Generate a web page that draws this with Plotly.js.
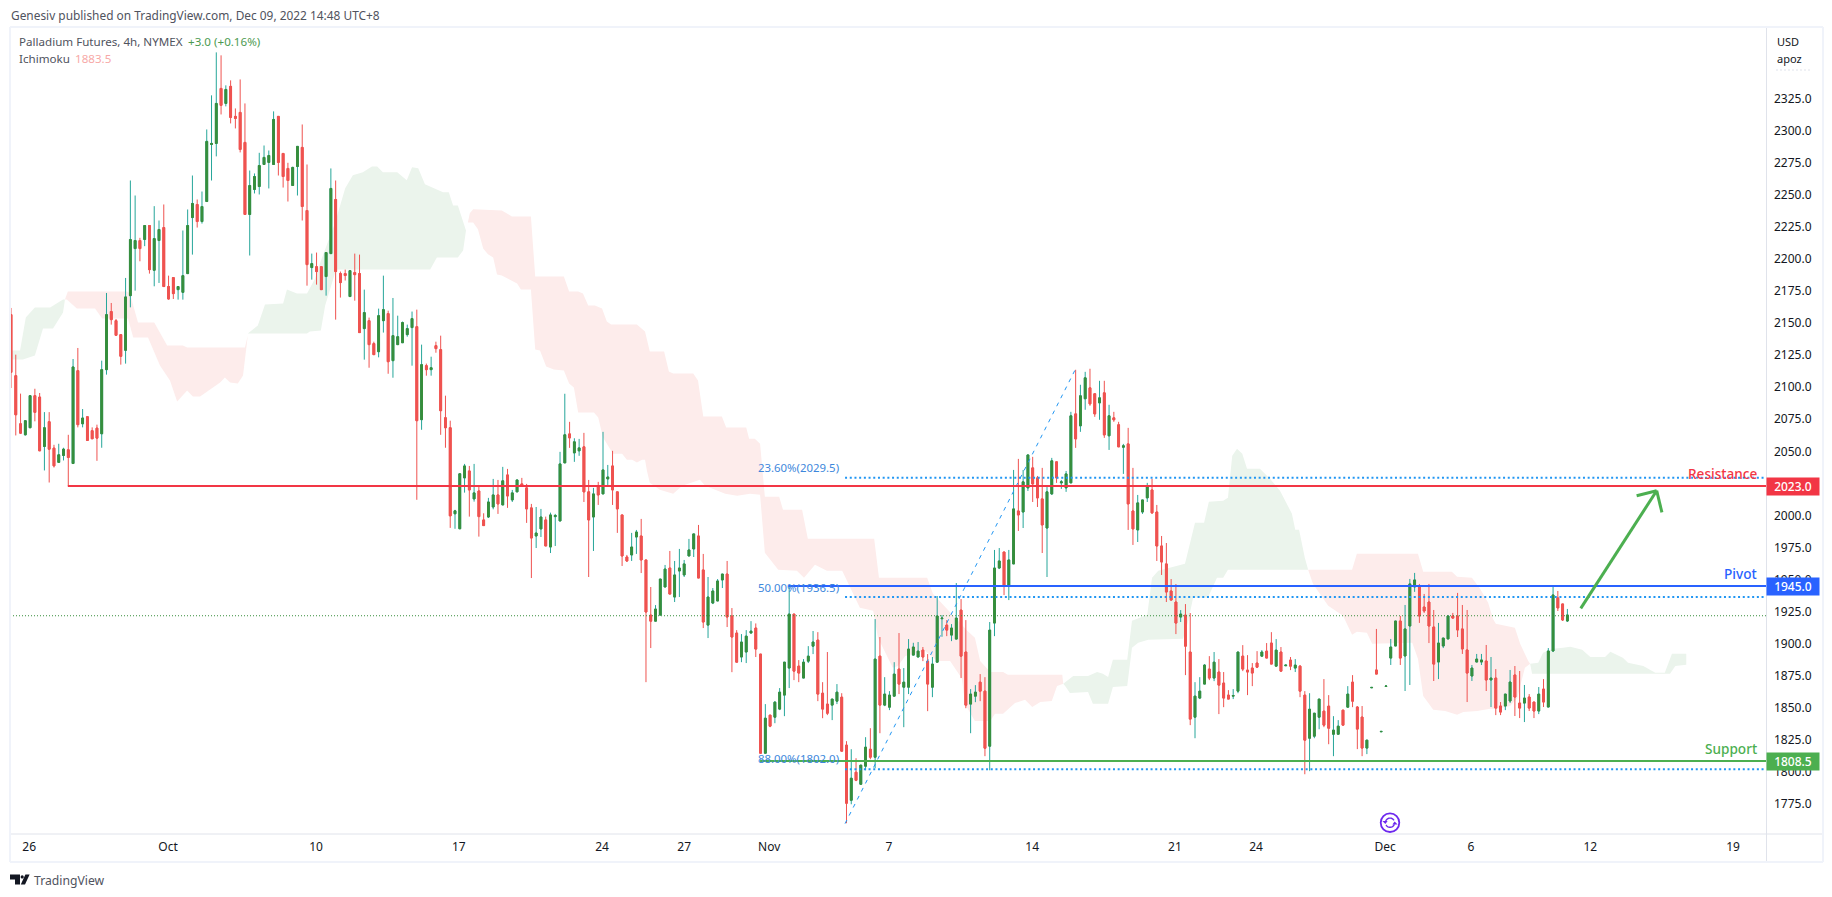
<!DOCTYPE html>
<html><head><meta charset="utf-8">
<script src="https://cdn.plot.ly/plotly-3.0.0.min.js"></script>
<style>html,body{margin:0;padding:0;background:#fff;overflow:hidden}#chart{width:1832px;height:897px}</style>
</head><body><div id="chart"></div>
<script>
const highPrice = [2161.8,2125.4,2095,2074.1,2093.4,2098.8,2095.5,2080.6,2080.6,2055.1,
2055.9,2052.8,2062.9,2122,2130.6,2083,2077,2068.7,2070.8,2120.7,
2173.5,2165.7,2153.2,2141,2185.2,2261.2,2249.5,2216.5,2226.1,2226.1,
2241.2,2230,2242.5,2187,2185.5,2178.5,2222.2,2238.6,2265.1,2246.4,
2252.6,2301,2327.6,2361.1,2358.8,2335.4,2339.3,2317.4,2340,2321.3,
2269,2266.7,2282.8,2288.5,2284.6,2315.1,2311.2,2282.3,2275,2271.9,
2287.8,2304.9,2273.7,2204.2,2205,2194,2205,2270.6,2261.2,2190.2,
2191.7,2190.9,2204.2,2203.4,2176.1,2154.3,2135.5,2161.3,2187,2159.7,
2169.6,2155.8,2151.2,2148.8,2159,2160.5,2133.2,2118.4,2123.8,2135.5,
2140.2,2093.4,2073.9,2004.4,2032.5,2040.2,2038.6,2040.2,2023,2001.7,
2013.7,2028.5,2027.7,2037.9,2036.3,2019.9,2027.7,2029.3,2024.6,2009,
2006.6,2005.1,1999.1,2002.2,2001.2,2049.6,2094.9,2073,2060.2,2059.7,
2064.4,2027.7,2021.5,2026.2,2065.2,2039.4,2050.4,2018.4,2000.4,1969.2,
1986.4,1988.7,1997.3,1965.3,1944.2,1930.1,1950.4,1961.4,1972.3,1964.5,
1973.9,1965.3,1981.7,1985.6,1992.6,1970,1952,1943.4,1950.4,1954.3,
1964.5,1927.8,1910.6,1907.5,1910.6,1917.6,1915.8,1891.9,1852.9,1844.3,
1855.2,1865.4,1885.6,1945,1923.1,1887.2,1888,1898.1,1909.9,1909,
1870,1893.5,1856.8,1868.5,1861.4,1824,1817.7,1810.7,1805.3,1827.1,
1834.1,1919.2,1905.2,1873.9,1863,1885.6,1908.3,1881,1903.6,1900.7,
1901.3,1897.4,1891.9,1889.6,1937.2,1922.3,1918.4,1915.3,1947.3,1934.8,
1918.4,1864.6,1867.7,1876.3,1873.9,1916.9,1973.1,1974.6,1971.5,1973.1,
2035.5,2044.1,2035.5,2047.2,2045.7,2030.8,2037.1,2022.3,2044.9,2041.8,
2027.7,2034.7,2080.8,2113.6,2101.9,2112,2114.4,2094.9,2105,2105,
2086.3,2080.8,2073,2055.8,2068.3,2037.1,2016,2012.1,2025.4,2028.5,
2008.2,1984,1978.5,1950.4,1946.5,1926.2,1930.9,1923.9,1870,1873.9,
1884.1,1890.3,1893.5,1888,1877.9,1863.8,1864.6,1893.5,1898.9,1891.1,
1884.9,1894.2,1895,1900.5,1909,1903.6,1897.4,1883.3,1889.6,1888,
1883.3,1863,1861.4,1845.8,1856.8,1872.4,1859.9,1843.5,1840.4,1848.2,
1866.9,1875.5,1851.4,1851.4,1824.8,1865.9,1911.5,1831.6,1867,1903.7,
1917.7,1921.6,1930.2,1950.5,1955.2,1946.6,1938.8,1946.6,1926.3,1916.2,
1904.4,1922.4,1924,1939.6,1930.2,1926.3,1883.4,1892,1892,1899,
1889.6,1880.2,1854.5,1860.7,1879.5,1882.6,1878.7,1867.8,1860.7,1854.5,
1866.2,1872.4,1896.6,1945,1941.1,1931,1927.1];
const lowPrice = [2099.4,2062.4,2063.5,2062.4,2068.4,2073.4,2050.4,2035.1,2025.7,2037.4,
2041.4,2042.9,2023.1,2040.5,2068.7,2068.7,2058.5,2059.8,2042.6,2052.8,
2109.8,2148.8,2140.5,2117.6,2118.4,2162.3,2175.3,2198.2,2210,2188.6,
2178.7,2181.3,2178.5,2168.3,2168.8,2168.3,2168.3,2188.6,2203.4,2224.5,
2227.6,2244.8,2261.2,2280,2312.7,2319,2305.7,2301.8,2283.1,2234.7,
2202.7,2251.1,2250.3,2273.7,2255,2273.7,2265.1,2255.7,2244.8,2257.3,
2249.5,2230,2179.2,2183.9,2180,2176.1,2171.4,2204.2,2152.7,2169.9,
2183.2,2170.7,2167.5,2142.6,2121.5,2115.2,2125.4,2123.3,2142.6,2110.5,
2107.4,2133.2,2134.7,2139.4,2116.8,2012.2,2066.8,2109,2109,2126.9,
2062.9,2052.8,1990.3,1989.6,1989.6,2017.8,1999.1,2010.8,1983.5,1992.1,
1998,2004.8,2001.2,2008.2,2005.9,2010.5,2018.4,2023,1994.2,1951.2,
1974.6,1983.2,1976.2,1970.7,1976.2,1995.7,2041,2052.7,2041.8,2046.5,
2010.5,1952,1972.3,2008.2,2016.8,2022.3,2008.2,1986.4,1960.6,1963.7,
1964.5,1970,1955.1,1870,1896.6,1917.6,1922.3,1944.2,1938.7,1932.5,
1936.4,1952,1968.4,1967.6,1951.2,1912.2,1904.4,1930.9,1933.3,1943.4,
1913,1877.8,1885.6,1885.6,1884.9,1908.3,1889.6,1814.6,1814.6,1834.9,
1838,1848.2,1843.5,1865.4,1871.6,1870,1873.2,1884.9,1891.9,1855.2,
1841.9,1844.3,1840.4,1852.9,1816.2,1760,1774.8,1792.8,1789.9,1801.3,
1809.9,1802.9,1830.2,1851.3,1848.2,1859.1,1860.7,1834.9,1860.7,1891.1,
1889.6,1886.4,1847.4,1858.3,1885.6,1905.4,1905.9,1902,1903.6,1873.2,
1849.7,1830.2,1854.4,1855.2,1812.3,1801.3,1905.9,1958.2,1937.9,1934,
1962.2,1987.9,1990.2,2019.1,2010.5,2006.6,1970.7,1952,2016,2025.4,
2020.7,2018.4,2025.4,2052.7,2065.2,2082.4,2085.5,2076.9,2074.6,2060.5,
2051.1,2073,2053.5,2032.4,1988.7,1977,1979.3,2001.2,2010.5,2001.2,
1964.5,1953.6,1932.5,1934,1907.5,1916.9,1875.5,1836.5,1826.3,1856.8,
1868.5,1871.6,1870.8,1845.1,1850.5,1856.8,1856.8,1861.4,1878.6,1859.9,
1866.9,1881,1890.3,1888.8,1884.1,1882.5,1878.6,1882.8,1879.4,1877.9,
1858.3,1798.2,1800.6,1826.3,1833.3,1834.9,1821.6,1812.3,1829.4,1836.5,
1850.5,1850.5,1817.8,1812.3,1813.9,1865.6,1876.3,1831.3,1866.7,1883.4,
1898.2,1883.4,1863.1,1867.8,1940.4,1916.2,1924,1900.5,1870.9,1872.4,
1896.6,1903.7,1919.3,1905.2,1892,1854.5,1870.9,1885.7,1883.4,1863.1,
1850.6,1844.3,1844.3,1848.2,1853.7,1843.6,1842,1838.9,1847.5,1842,
1845.1,1850.6,1850.6,1893.5,1925.5,1917.7,1916.9];
const openPrice = [2156.6,2109,2071.5,2062.9,2068.4,2093.4,2092.3,2053.8,2073.1,2052.5,
2041.4,2046.8,2051.2,2040.5,2112.9,2071.5,2077,2066.1,2068.1,2063.7,
2113.7,2159,2151.9,2141,2128.8,2171.4,2208.1,2214.4,2215.2,2226.1,
2191.2,2214.4,2224.5,2178.5,2185.5,2176.1,2174,2188.6,2232.3,2242.5,
2229.2,2244.8,2289.3,2290.1,2333,2321.3,2334.6,2311.2,2314.3,2290.9,
2234.7,2254.2,2256.5,2273.7,2275.3,2273.7,2311.2,2282.3,2270.6,2257.3,
2272.1,2287,2237.8,2193.3,2194,2194,2186.3,2204.2,2246.4,2188.6,
2188.6,2170.7,2189.4,2188.6,2145.7,2151.9,2134,2127.7,2151.9,2157.4,
2120.7,2133.2,2134.7,2141,2146.5,2147.2,2074.7,2116.8,2113.7,2132.4,
2129.3,2076.2,2068.4,2001.3,1989.6,2029.3,2034.7,2012.9,2019.1,1996.5,
1998.8,2006.6,2016,2008.2,2031.6,2012.1,2018.4,2024.6,2021.5,2005.9,
1984,1989.5,1996.5,1975.4,1999.1,1995.7,2041,2063.6,2048.8,2050.4,
2053.5,2018.4,1998.8,2023,2016.8,2028.5,2038.6,2018.4,2000.4,1967.6,
1969.2,1983.2,1984,1965.3,1922.3,1917.6,1922.3,1944.2,1959,1936.4,
1956.7,1953.6,1968.4,1973.9,1984,1957.5,1914.5,1931.7,1933.3,1949.7,
1954.3,1921.6,1908.3,1889.6,1893.5,1908.3,1912.2,1891.9,1814.6,1844.3,
1842.7,1849,1859.9,1881,1923.1,1882.5,1873.2,1886.4,1898.1,1902.8,
1861.4,1852.9,1852.1,1855.2,1858.3,1820.9,1777.9,1799.8,1790.4,1804.5,
1817.7,1811.5,1890.3,1852.1,1850.5,1859.1,1880.2,1866.1,1866.1,1891.1,
1889.6,1895,1886.4,1866.1,1885.6,1919.5,1914.5,1906.7,1903.6,1926.2,
1893.5,1852.9,1859.1,1870,1863,1820.1,1916.1,1959,1971.5,1945,
1962.2,2003.5,2002.7,2021.5,2037.1,2029.3,2012.9,1990.2,2016.8,2041.8,
2025.4,2021.5,2025.4,2079.2,2069.9,2091,2099.5,2094.9,2087.8,2095.6,
2062.1,2076.1,2070.7,2053.2,2055.8,2003.5,1988.7,2002.7,2013.7,2019.9,
2002.7,1976.2,1962.2,1941.1,1932.5,1920.8,1922.3,1893.5,1842.7,1857.6,
1868.5,1880.2,1873.2,1877.9,1869.3,1859.9,1859.1,1863,1890.3,1879.4,
1881,1884.9,1890.3,1894.2,1900.5,1882.5,1893.5,1882.8,1887.2,1881,
1882.5,1859.9,1826.3,1827.9,1842.7,1847.4,1851.3,1829.4,1829.4,1848.2,
1850.5,1870,1850.6,1842.8,1818.6,1865.6,1879.5,1831.3,1866.7,1888.8,
1898.2,1917.7,1890.4,1913.8,1944.3,1944.3,1928.6,1932.5,1913,1885.7,
1898.2,1903.7,1921.6,1921.6,1911.5,1895.1,1874.8,1885.7,1885.7,1886.5,
1871.7,1873.2,1851.4,1851.4,1855.3,1875.6,1853.7,1853.7,1858.4,1854.5,
1847.5,1864.6,1850.6,1894.3,1935.7,1931,1917.7];
const closePrice = [2111.6,2078.5,2064.2,2073.9,2093.4,2080.4,2050.4,2068.4,2051.7,2038.7,
2047.3,2051.7,2045.2,2115.8,2070.8,2076,2058.5,2059.8,2060.3,2113.7,
2156.6,2152.7,2140.5,2124.1,2170.4,2215.2,2214.4,2208.1,2226.1,2191.7,
2215.9,2223,2178.5,2168.8,2173,2178.5,2187,2226.1,2243.3,2229.2,
2240.9,2291.7,2290.1,2321.3,2319.8,2332.2,2310.4,2309.6,2285.4,2234.7,
2257.3,2264.3,2272.9,2279.2,2280.7,2308.8,2275.3,2264.3,2261.2,2271.4,
2287.8,2240.9,2195.6,2196.4,2190.2,2176.1,2205,2255,2190.2,2181.6,
2187.1,2190.9,2187.8,2142.6,2158.2,2133.2,2125.4,2155.8,2160.5,2119.9,
2140.2,2139.4,2150.4,2145.7,2153.5,2073.9,2117.6,2113.7,2115.2,2130.1,
2081.7,2068.4,1999.7,2003.6,2032.5,2038.6,2019.9,2017.6,1999.1,1992.1,
2010.5,2016,2009,2027,2015.2,2017.6,2027.7,2023,2005.1,1982.4,
1986.3,1998.8,1976.2,2000.4,2000,2040.2,2062.9,2060.5,2057.4,2052.7,
2018.4,1996.5,2016.8,2016,2035.5,2030,2019.9,2005.1,1968.4,1964.5,
1975.4,1987.1,1965.3,1924.7,1917.6,1927,1950.4,1958.2,1938.7,1953.6,
1959,1962.2,1973.1,1985.6,1951.2,1916.9,1936.4,1941.1,1948.9,1954.3,
1920.8,1905.2,1885.6,1901.3,1905.9,1909.8,1895.8,1814.6,1841.9,1835.7,
1854.4,1862.2,1885.6,1923.1,1878.6,1877.1,1885.6,1890.3,1901.3,1860.7,
1849,1845.8,1856.8,1862.2,1816.2,1775.6,1795.1,1793.5,1805.3,1819.3,
1811.5,1888,1852.1,1860.7,1859.9,1876.3,1868.5,1870,1895.8,1897.4,
1894.2,1889.6,1868.5,1884.1,1921.6,1920,1910.6,1912.2,1920,1890.3,
1852.1,1860.7,1862.2,1863,1818.5,1910.6,1959,1964.5,1945,1965.3,
2005.1,2000.4,2026.2,2047.2,2024.6,2013.7,1992.6,2018.4,2042.6,2029.3,
2026.2,2032.4,2077.7,2059.7,2093.3,2107.3,2087,2079.2,2091.7,2062.8,
2077.7,2074.6,2053.5,2054.3,2009,1989.5,2009.8,2012.1,2023,2002,
1976.2,1963.7,1940.3,1934,1916.1,1923.1,1898.1,1841.2,1859.1,1863,
1883.3,1873.2,1885.6,1867.7,1857.6,1856.8,1859.6,1893.5,1880.2,1877.9,
1877.1,1881.7,1893.5,1888.8,1884.1,1895,1878.6,1883.3,1882.5,1883.3,
1863,1824.8,1848.9,1845.8,1856.8,1836.5,1834.1,1832.6,1835.7,1836.5,
1860.7,1855.2,1833.4,1818.6,1824.8,1865.9,1876.3,1831.6,1867,1897.4,
1917.7,1888.8,1911.5,1946.6,1949.7,1921.6,1925.5,1913.8,1884.1,1900.5,
1904.4,1921.6,1920,1910.7,1895.9,1877.1,1881,1888,1887.3,1871.7,
1873.2,1849.8,1846.7,1860.7,1870.1,1858.4,1849.8,1857.6,1849.8,1847.5,
1860.7,1854.5,1894.3,1938,1927.9,1918.5,1922.4];

// Ichimoku cloud outlines: bar index and price
const greenCloudA_bar = [0,1.9,3.1,5,8.2,10.9,11.3,10.9,8.8,6.7,5,2.5,0];
const greenCloudA_price = [2128.6,2128.6,2154.4,2162.2,2162.2,2168.4,2168.4,2158.3,2145.8,2145.8,2124.7,2121.6,2121.6];
const pinkCloudA_bar = [11.3,11.9,24.3,24.9,26.6,30,32.7,36,36.9,49,49.6,48.6,47.5,45.9,44.8,43.8,39.6,38.1,36.9,34.8,33.3,31.2,28.7,25.6,24.5,19.1,17.6,13.8,11.7];
const pinkCloudA_price = [2168.4,2174.7,2174.7,2173.1,2150.5,2150.5,2132.5,2132.5,2131,2131,2140.3,2109.1,2102.9,2103.6,2107.5,2103.6,2092.7,2092.7,2097.4,2088.8,2105.2,2116.9,2138.8,2138.8,2153.6,2153.6,2161.4,2161.4,2168.4];
const greenCloudB_bar = [49.6,51.7,53.2,57,57.8,59.9,62,63.7,64.7,67.9,70,71.6,73.7,75.6,76.7,77.9,80.9,82.9,84,85.3,86.7,90.5,91.7,92.6,93.6,94.7,95.3,94.7,93.6,89.2,87.8,68.1,65.8,64.9,62.6,62];
const greenCloudB_price = [2141.9,2148.1,2164.5,2165.3,2176.2,2173.1,2173.1,2184.8,2196.5,2228.5,2255.1,2265.2,2267.6,2272.2,2272.2,2267.6,2267.6,2261.3,2271.5,2270.8,2258.2,2252,2252,2241.8,2241.8,2228.5,2222.3,2206.7,2201.2,2201.2,2191.8,2191.8,2163.7,2144.2,2143.4,2141.9];
const pinkCloudB_bar = [95.7,96.1,96.8,102.8,104.9,108.9,109.8,115.8,116.9,118.8,119.8,120.9,122.3,123.8,124.8,125.7,131.1,132.8,133.8,136.8,137.8,138.7,142.9,143.9,145,148.9,149.8,154,154.6,155.8,156.9,157.9,160.9,161.7,165.7,166.9,180.8,181.8,191.9,193.1,200.3,201.9,203,205.1,207.8,208.8,220.2,220.4,
219.1,218,215.6,213.9,212.4,210.3,207.8,206.1,205.1,201.9,199.8,199.2,196.7,194,191.5,187.3,185.8,184.7,181.6,180.6,177.8,174.1,170.9,168.4,166.1,164.6,160.7,157.9,156.9,154.8,152.1,149.6,145.4,144.3,140.6,138.7,135.9,133.8,133.2,132.8,132.2,131.1,130.1,129,128,126.1,124,123,122.1,118.8,117.9,116.9,115.8,113.7,112.1,110.8,109.8,108.9,106.8,106,102.8,101.8,101,99.9,98.9,97.8,96.8,95.7];
const pinkCloudB_price = [2228.5,2235.6,2238.7,2237.9,2233.2,2233.2,2186.4,2186.4,2174.7,2174.7,2173.1,2163.7,2163.7,2161.4,2151.3,2148.9,2148.9,2143.4,2127.8,2127.8,2112.2,2110.7,2110.7,2105.2,2077.1,2077.1,2068.5,2068.5,2059.9,2059.9,2056,2014.6,2014.6,2004.5,2004.5,1981.9,1981.9,1951.4,1951.4,1938.9,1910,1904.6,1886.6,1878,1878,1875.7,1875.7,1868.7,
1867.1,1855.4,1854.6,1850.7,1856.2,1853.8,1845.3,1845.3,1839.8,1839.8,1853.1,1872.6,1886.6,1886.6,1894.4,1890.5,1882.7,1881.2,1904.6,1925.7,1928,1956.9,1956.9,1961.6,1951.4,1956.9,1957.7,1970.9,2016.2,2017,2015.4,2017,2023.2,2027.9,2023.2,2017,2020.1,2025.6,2034.9,2043.5,2043.5,2041.2,2043.5,2043.5,2048.2,2048.2,2060.7,2076.3,2080.2,2080.2,2099.7,2102.9,2113,2113.8,2116.1,2128.6,2129.4,2176.2,2176.2,2180.9,2187.2,2187.9,2201.2,2203.6,2208.2,2223.1,2228.5,2228.5];
const greenCloudC_bar = [220.4,222.5,225.6,227.5,228.7,229.8,230.8,233.8,234.8,238,239,240.3,245.9,248,249.9,250.9,253.9,254.9,255.8,256.8,257.9,258.9,261.6,263.7,265.8,268.3,269,269.8,271,271.7,254.9,253.9,252.6,250.7,247.6,246.6,245.5,238.2,236.1,234.8,233.8,230.8,229.8,226.6,225.6,221.8,220.8];
const greenCloudC_price = [1868.7,1874.9,1874.9,1878,1876.5,1874.1,1887.4,1887.4,1917.9,1922.5,1951.4,1956.9,1962.3,1994.3,1994.3,2010.7,2011.5,2013.9,2046.6,2052.1,2048.2,2036.5,2036.5,2028.7,2019.3,2001.4,1988.9,1988.9,1967,1957.7,1957.7,1951.4,1951.4,1935.8,1935.8,1917.9,1903.8,1903,1900.7,1896.8,1867.1,1866.3,1853.1,1853.1,1862.4,1861.6,1867.1];
const pinkCloudC_bar = [271.7,280.9,281.9,294.7,295.8,301.8,302.9,306,307.7,309.4,310.4,311,315,316.1,317.8,318.2,317.1,315.5,314,311.3,309.8,307.1,304.2,302.9,300.4,297.9,295.8,294.7,293.5,285.1,284,281.9,280.9,279,275.9,272.7];
const pinkCloudC_price = [1957.7,1957.7,1970.2,1970.2,1956.1,1956.1,1952.2,1951.4,1942.8,1931.9,1919.4,1915.5,1912.4,1899.9,1886.6,1884.3,1881.2,1857.7,1851.5,1849.2,1849.2,1847.6,1846.8,1844.5,1847.6,1848.4,1859.3,1888.2,1900.7,1899.9,1908.5,1909.3,1906.9,1921.8,1929.6,1946.7];
const greenCloudD_bar = [318.2,319.9,320.9,323,325.1,326.6,329.1,330.8,333.9,335,337.6,338.7,341.9,344.4,346.4,347.9,350.9,350.9,348.6,347.5,318.6];
const greenCloudD_price = [1884.3,1885.1,1892.9,1896,1896.8,1897.6,1895.2,1889.7,1889.7,1893.7,1889,1885.1,1882.7,1877.3,1877.3,1892.1,1892.1,1883.5,1882.7,1876.5,1876.5];

const priceTicks = [1775,1800,1825,1850,1875,1900,1925,1950,1975,2000,2050,2075,2100,2125,2150,2175,2200,2225,2250,2275,2300,2325];
const timeTickBars = [3.8,32.9,63.9,93.8,123.8,141,158.8,183.9,213.9,243.8,260.8,287.8,305.8,330.8,360.7];
const timeTickLabels = ['26','Oct','10','17','24','27','Nov','7','14','21','24','Dec','6','12','19'];

const levelNames = ['Resistance','Pivot','Support'];
const levelPrices = [2023,1945,1808.5];
const levelStartBars = [11.9,162.8,156.9];
const levelColors = ['#f23645','#2962ff','#4caf50'];
const fibLabels = ['23.60%(2029.5)','50.00%(1936.5)','88.00%(1802.0)'];
const fibPrices = [2029.5,1936.5,1802];
const lastPrice = 1921.8;

const bars = closePrice.map((_, i) => i);
const xRange = [-0.21, 367.6];
const yRange = [1751.6, 2380.9];
const FONT = '"Noto Sans", "Open Sans", sans-serif';
const INK = '#131722';

// helpers for page furniture placed in page pixels
const W = 1756, H = 807, L = 10, B = 834;
const fx = p => (p - L) / W;
const fy = p => (B - p) / H;

function cloud(x, y, color) {
  return {type:'scatter', mode:'lines', x:x, y:y, fill:'toself', fillcolor:color,
    line:{width:0, color:color}, hoverinfo:'skip', showlegend:false, xaxis:'x', yaxis:'y'};
}
const PINK = '#fdeceb', MINT = '#ebf4ec';
const traces = [
  cloud(greenCloudA_bar, greenCloudA_price, MINT),
  cloud(pinkCloudA_bar, pinkCloudA_price, PINK),
  cloud(greenCloudB_bar, greenCloudB_price, MINT),
  cloud(pinkCloudB_bar, pinkCloudB_price, PINK),
  cloud(greenCloudC_bar, greenCloudC_price, MINT),
  cloud(pinkCloudC_bar, pinkCloudC_price, PINK),
  cloud(greenCloudD_bar, greenCloudD_price, MINT),
  {type:'candlestick', name:'wicks', x:bars, open:openPrice, high:highPrice, low:lowPrice, close:closePrice,
   increasing:{line:{color:'#26a69a', width:1}, fillcolor:'#388e3c'},
   decreasing:{line:{color:'#ef5350', width:1}, fillcolor:'#ef5350'},
   hoverinfo:'skip', showlegend:false, xaxis:'x2', yaxis:'y2'},
  {type:'candlestick', name:'bodies', x:bars, open:openPrice, close:closePrice,
   high:bars.map(i => Math.max(openPrice[i], closePrice[i])),
   low:bars.map(i => Math.min(openPrice[i], closePrice[i])),
   increasing:{line:{color:'#388e3c', width:1}, fillcolor:'#388e3c'},
   decreasing:{line:{color:'#ef5350', width:1}, fillcolor:'#ef5350'},
   hoverinfo:'skip', showlegend:false, xaxis:'x2', yaxis:'y2'}
];

const shapes = [];
function dline(x0,y0,x1,y1,color,width,dash){
  shapes.push({type:'line',xref:'x',yref:'y',x0,y0,x1,y1,layer:'above',line:{color,width,dash:dash||'solid'}});
}
function pline(x0,y0,x1,y1,color,width,dash){
  shapes.push({type:'line',xref:'paper',yref:'paper',x0:fx(x0),y0:fy(y0),x1:fx(x1),y1:fy(y1),layer:'above',line:{color,width,dash:dash||'solid'}});
}
function ppath(d,fill,lineColor,lineWidth){
  shapes.push({type:'path',xref:'paper',yref:'paper',path:d,layer:'above',fillcolor:fill||'rgba(0,0,0,0)',line:{color:lineColor||'rgba(0,0,0,0)',width:lineWidth||0}});
}
const P = (x,y) => fx(x) + ',' + fy(y);

// last price dotted line
dline(xRange[0], lastPrice, xRange[1], lastPrice, '#388e3c', 1, '1px,2px');
// fibonacci levels and swing line
fibPrices.forEach(p => dline(174.7, p, xRange[1], p, '#2196f3', 2, '2px,2.7px'));
dline(174.7, 1759.7, 222.9, 2113.6, '#2196f3', 1, '4px,5px');
// support / resistance levels
levelPrices.forEach((p,i) => dline(levelStartBars[i], p, xRange[1], p, levelColors[i], 2));
// hand-drawn arrow
dline(328.8, 1927.5, 344.7, 2019.3, '#4caf50', 3);
dline(340.5, 2015.4, 344.7, 2019.3, '#4caf50', 3);
dline(345.8, 2002.4, 344.7, 2019.3, '#4caf50', 3);

// frame and axis extensions
const FRAME = '#f0f3fa', AXIS = '#e0e3eb';
pline(10,27,1823,27,FRAME,2);
pline(10,27,10,862,FRAME,2);
pline(1823,27,1823,862,FRAME,2);
pline(10,862,1823,862,FRAME,2);
pline(1766.5,28,1766.5,861,AXIS,1);
pline(11,834,1822,834,AXIS,1);
pline(1776,70,1811,70,AXIS,1,'2px,2px');

// purple marker
shapes.push({type:'circle',xref:'paper',yref:'paper',layer:'above',
  x0:fx(1380.7),x1:fx(1399.3),y0:fy(832),y1:fy(813.4),fillcolor:'#fff',line:{color:'#6d28ee',width:1.8}});
function arc(cx,cy,r,a0,a1){
  let d='';
  for(let k=0;k<=12;k++){const a=(a0+(a1-a0)*k/12)*Math.PI/180;
    d+=(k?'L':'M')+P(cx+r*Math.cos(a),cy-r*Math.sin(a));}
  return d;
}
ppath(arc(1390,822.7,4.6,30,160),null,'#6d28ee',1.4);
ppath(arc(1390,822.7,4.6,210,340),null,'#6d28ee',1.4);
ppath('M'+P(1382.4,821)+'L'+P(1385.4,824)+'L'+P(1387.6,821)+'Z','#6d28ee');
ppath('M'+P(1392.4,824.4)+'L'+P(1394.6,821.4)+'L'+P(1397.6,824.4)+'Z','#6d28ee');

// TradingView logo
ppath('M'+P(10,874.5)+'L'+P(20,874.5)+'L'+P(20,884.5)+'L'+P(15,884.5)+'L'+P(15,879.5)+'L'+P(10,879.5)+'Z',INK);
shapes.push({type:'circle',xref:'paper',yref:'paper',layer:'above',x0:fx(20.6),x1:fx(23.8),y0:fy(878.5),y1:fy(875.3),fillcolor:INK,line:{width:0}});
ppath('M'+P(25.4,874.5)+'L'+P(29.6,874.5)+'L'+P(25,884.5)+'L'+P(20.8,884.5)+'Z',INK);

const annotations = [];
function txt(px,py,text,color,size,anchor,weight){
  annotations.push({xref:'paper',yref:'paper',x:fx(px),y:fy(py),text,showarrow:false,xanchor:anchor||'left',yanchor:'middle',
    align:anchor||'left',borderpad:0,font:{family:FONT,size:size||12,color:color||INK,weight:weight||400}});
}
txt(10,14.5,'Genesiv published on TradingView.com, Dec 09, 2022 14:48 UTC+8','#50535e',11.9);
txt(18,41.5,'Palladium Futures, 4h, NYMEX','#50535e',11.6);
txt(187,41.5,'+3.0 (+0.16%)','#4c9a50',11.6);
txt(18,58.5,'Ichimoku','#50535e',11.6);
txt(73.5,58.5,'1883.5','#f7a9a7',11.6);
txt(33,880,'TradingView','#50535e',12.2);
txt(1776,41,'USD',INK,11);
txt(1776,58,'apoz',INK,11);
fibLabels.forEach((t,i) => txt(756.5,[467,587,758][i],t,'#3d87dc',11.4));
levelNames.forEach((t,i) => txt(1757.5,[473.5,573.5,748.5][i],t,levelColors[i],13.6,'right',500));
levelPrices.forEach((p,i) => {
  annotations.push({xref:'paper',yref:'paper',x:fx(1766),y:fy([486.5,586.5,761.5][i]),text:p.toFixed(1),showarrow:false,
    xanchor:'left',yanchor:'middle',width:52,height:17,align:'center',borderpad:0,bgcolor:levelColors[i],
    font:{family:FONT,size:12,color:'#fff',weight:500}});
});

const layout = {
  width:1832, height:897, paper_bgcolor:'#fff', plot_bgcolor:'#fff', showlegend:false,
  margin:{l:L, r:1832-L-W, t:B-H, b:897-B, pad:0},
  boxmode:'overlay', boxgap:0.45, dragmode:false,
  xaxis:{range:xRange, type:'linear', tickmode:'array', tickvals:timeTickBars, ticktext:timeTickLabels,
    showgrid:false, zeroline:false, showline:false, ticks:'', ticklabelstandoff:4,
    rangeslider:{visible:false}, tickfont:{family:FONT,size:12,color:INK}},
  yaxis:{range:yRange, side:'right', tickmode:'array', tickvals:priceTicks, tickformat:'.1f',
    showgrid:false, zeroline:false, showline:false, ticks:'', ticklabelstandoff:7,
    tickfont:{family:FONT,size:12,color:INK}},
  xaxis2:{range:xRange, overlaying:'x', anchor:'y2', visible:false, type:'linear', rangeslider:{visible:false}},
  yaxis2:{range:yRange, overlaying:'y', anchor:'x2', side:'right', visible:false},
  shapes, annotations
};
Plotly.newPlot('chart', traces, layout, {displayModeBar:false, staticPlot:true, responsive:false});
</script></body></html>
